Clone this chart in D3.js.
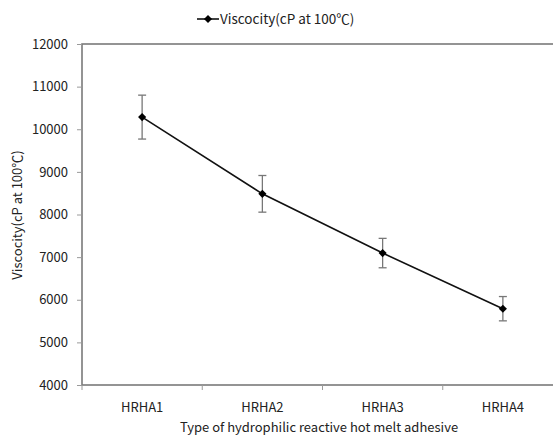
<!DOCTYPE html>
<html>
<head>
<meta charset="utf-8">
<script src="https://cdn.jsdelivr.net/npm/d3@7"></script>
<style>
  body { margin: 0; background: #fff; }
  text { font-family: "Noto Sans CJK KR", "Noto Sans", sans-serif; fill: #222; }
</style>
</head>
<body>
<script>
// chart data
var categories = ['HRHA1', 'HRHA2', 'HRHA3', 'HRHA4'];
var viscosity = [10285, 8485, 7095, 5790];
var errors = [515, 430, 345, 285];
var yTicks = [4000, 5000, 6000, 7000, 8000, 9000, 10000, 11000, 12000];

var width = 553, height = 436;
var margin = {left: 82, top: 44, right: 563, bottom: 385};

var svg = d3.select('body').append('svg')
  .attr('width', width)
  .attr('height', height);

var x = d3.scaleBand().domain(categories).range([margin.left, margin.right]);
var y = d3.scaleLinear().domain([4000, 12000]).range([margin.bottom, margin.top]);

// plot frame (right side falls outside the picture)
svg.append('rect')
  .attr('x', margin.left).attr('y', margin.top)
  .attr('width', margin.right - margin.left)
  .attr('height', margin.bottom - margin.top)
  .attr('fill', 'none')
  .attr('stroke', '#7a7a7a')
  .attr('stroke-width', 1.6);

// y axis
var yAxis = svg.append('g')
  .attr('transform', 'translate(' + margin.left + ',0)')
  .call(d3.axisLeft(y).tickValues(yTicks).tickSize(5).tickPadding(9).tickFormat(d3.format('d')));
yAxis.select('.domain').remove();
yAxis.selectAll('line').attr('stroke', '#9a9a9a');
yAxis.selectAll('text').style('font-size', '13px').attr('fill', '#222');

// x axis ticks on band edges
var edges = categories.map(function(c) { return x(c); });
svg.selectAll('.xtick').data(edges).enter().append('line')
  .attr('x1', function(d) { return d; })
  .attr('x2', function(d) { return d; })
  .attr('y1', margin.bottom)
  .attr('y2', margin.bottom + 5)
  .attr('stroke', '#9a9a9a');

svg.selectAll('.xlabel').data(categories).enter().append('text')
  .attr('x', function(d) { return x(d) + x.bandwidth() / 2; })
  .attr('y', margin.bottom + 27)
  .attr('text-anchor', 'middle')
  .style('font-size', '13px')
  .text(function(d) { return d; });

// axis titles
svg.append('text')
  .attr('x', 319)
  .attr('y', 432)
  .attr('text-anchor', 'middle')
  .style('font-size', '13px')
  .text('Type of hydrophilic reactive hot melt adhesive');

svg.append('text')
  .attr('transform', 'translate(22,215) rotate(-90)')
  .attr('text-anchor', 'middle')
  .style('font-size', '13px')
  .text('Viscocity(cP at 100℃)');

var pts = categories.map(function(c, i) {
  return {c: c, v: viscosity[i], e: errors[i]};
});
var cx = function(d) { return x(d.c) + x.bandwidth() / 2; };

// error bars
var eb = svg.append('g').attr('stroke', '#777').attr('stroke-width', 1.3);
eb.selectAll('.ev').data(pts).enter().append('line')
  .attr('x1', cx).attr('x2', cx)
  .attr('y1', function(d) { return y(d.v + d.e); })
  .attr('y2', function(d) { return y(d.v - d.e); });
eb.selectAll('.et').data(pts).enter().append('line')
  .attr('x1', function(d) { return cx(d) - 4; })
  .attr('x2', function(d) { return cx(d) + 4; })
  .attr('y1', function(d) { return y(d.v + d.e); })
  .attr('y2', function(d) { return y(d.v + d.e); });
eb.selectAll('.eb').data(pts).enter().append('line')
  .attr('x1', function(d) { return cx(d) - 4; })
  .attr('x2', function(d) { return cx(d) + 4; })
  .attr('y1', function(d) { return y(d.v - d.e); })
  .attr('y2', function(d) { return y(d.v - d.e); });

// line
svg.append('path')
  .datum(pts)
  .attr('fill', 'none')
  .attr('stroke', '#111')
  .attr('stroke-width', 1.6)
  .attr('d', d3.line().x(cx).y(function(d) { return y(d.v); }));

// diamond markers
var diamond = d3.symbol().type(d3.symbolDiamond2).size(42);
svg.selectAll('.mk').data(pts).enter().append('path')
  .attr('d', diamond)
  .attr('transform', function(d) { return 'translate(' + cx(d) + ',' + y(d.v) + ')'; })
  .attr('fill', '#000');

// legend
var lg = svg.append('g').attr('transform', 'translate(197,19)');
lg.append('line').attr('x1', 0).attr('x2', 22).attr('y1', 0).attr('y2', 0)
  .attr('stroke', '#111').attr('stroke-width', 1.6);
lg.append('path').attr('d', diamond).attr('transform', 'translate(11,0)').attr('fill', '#000');
lg.append('text').attr('x', 23).attr('y', 4.5)
  .style('font-size', '13.5px')
  .text('Viscocity(cP at 100℃)');
</script>
</body>
</html>
